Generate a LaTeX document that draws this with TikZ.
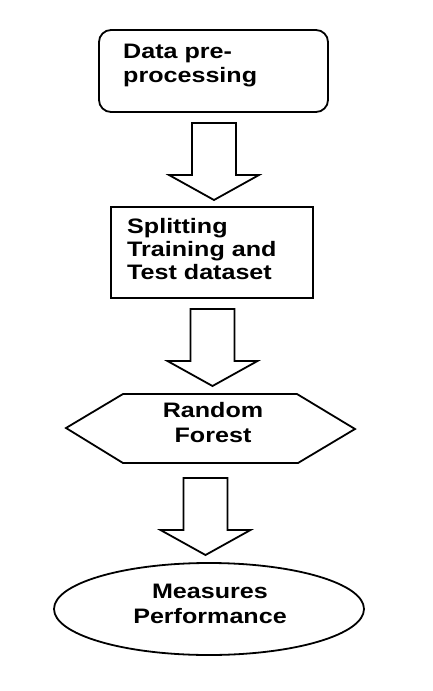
\documentclass[tikz,border=0pt]{standalone}
\usepackage{fontspec}
\newfontfamily\lab{Liberation Sans}[FakeStretch=1.2]
\usetikzlibrary{shapes.geometric}
\begin{document}
\begin{tikzpicture}[x=1bp,y=-1bp,
  outl/.style={draw=black,line width=1.8bp},
  lbl/.style={font=\lab\bfseries\fontsize{21}{24.5}\selectfont,inner sep=0pt},
  blockarr/.pic={\draw[outl,line join=miter] (-22,0) -- (-22,52) -- (-45,52) -- (0,77) -- (45,52) -- (22,52) -- (22,0) -- cycle;}]
\useasboundingbox (0,0) rectangle (433,691);
% box 1
\node[outl,rounded corners=12bp,minimum width=229bp,minimum height=82bp,inner sep=0pt] (b1) at (213.5,71) {};
\node[lbl,anchor=base west,align=left] (t1) at (123,83) {Data pre-\\processing};
% arrow 1
\coordinate (a1) at (214,123);
\pic at (a1) {blockarr};
% box 2
\node[outl,minimum width=202bp,minimum height=91bp,inner sep=0pt] (b2) at (212,252.5) {};
\node[lbl,anchor=base west,align=left,font=\lab\bfseries\fontsize{21}{23}\selectfont] (t2) at (127,279) {Splitting\\Training and\\Test dataset};
% arrow 2
\coordinate (a2) at (212.5,309);
\pic at (a2) {blockarr};
% hexagon
\coordinate (h1) at (66,428);
\coordinate (h2) at (123,394);
\coordinate (h3) at (297,394);
\coordinate (h4) at (355,429);
\coordinate (h5) at (298,463);
\coordinate (h6) at (123,463);
\draw[outl] (h1) -- (h2) -- (h3) -- (h4) -- (h5) -- (h6) -- cycle;
\node[lbl,anchor=base,align=center] (t3) at (213,442) {Random\\Forest};
% arrow 3
\coordinate (a3) at (205.5,478);
\pic at (a3) {blockarr};
% ellipse
\node[outl,ellipse,minimum width=310bp,minimum height=92bp,inner sep=0pt] (e) at (209,609) {};
\node[lbl,anchor=base,align=center] (t4) at (210,623) {Measures\\Performance};
\end{tikzpicture}
\end{document}
